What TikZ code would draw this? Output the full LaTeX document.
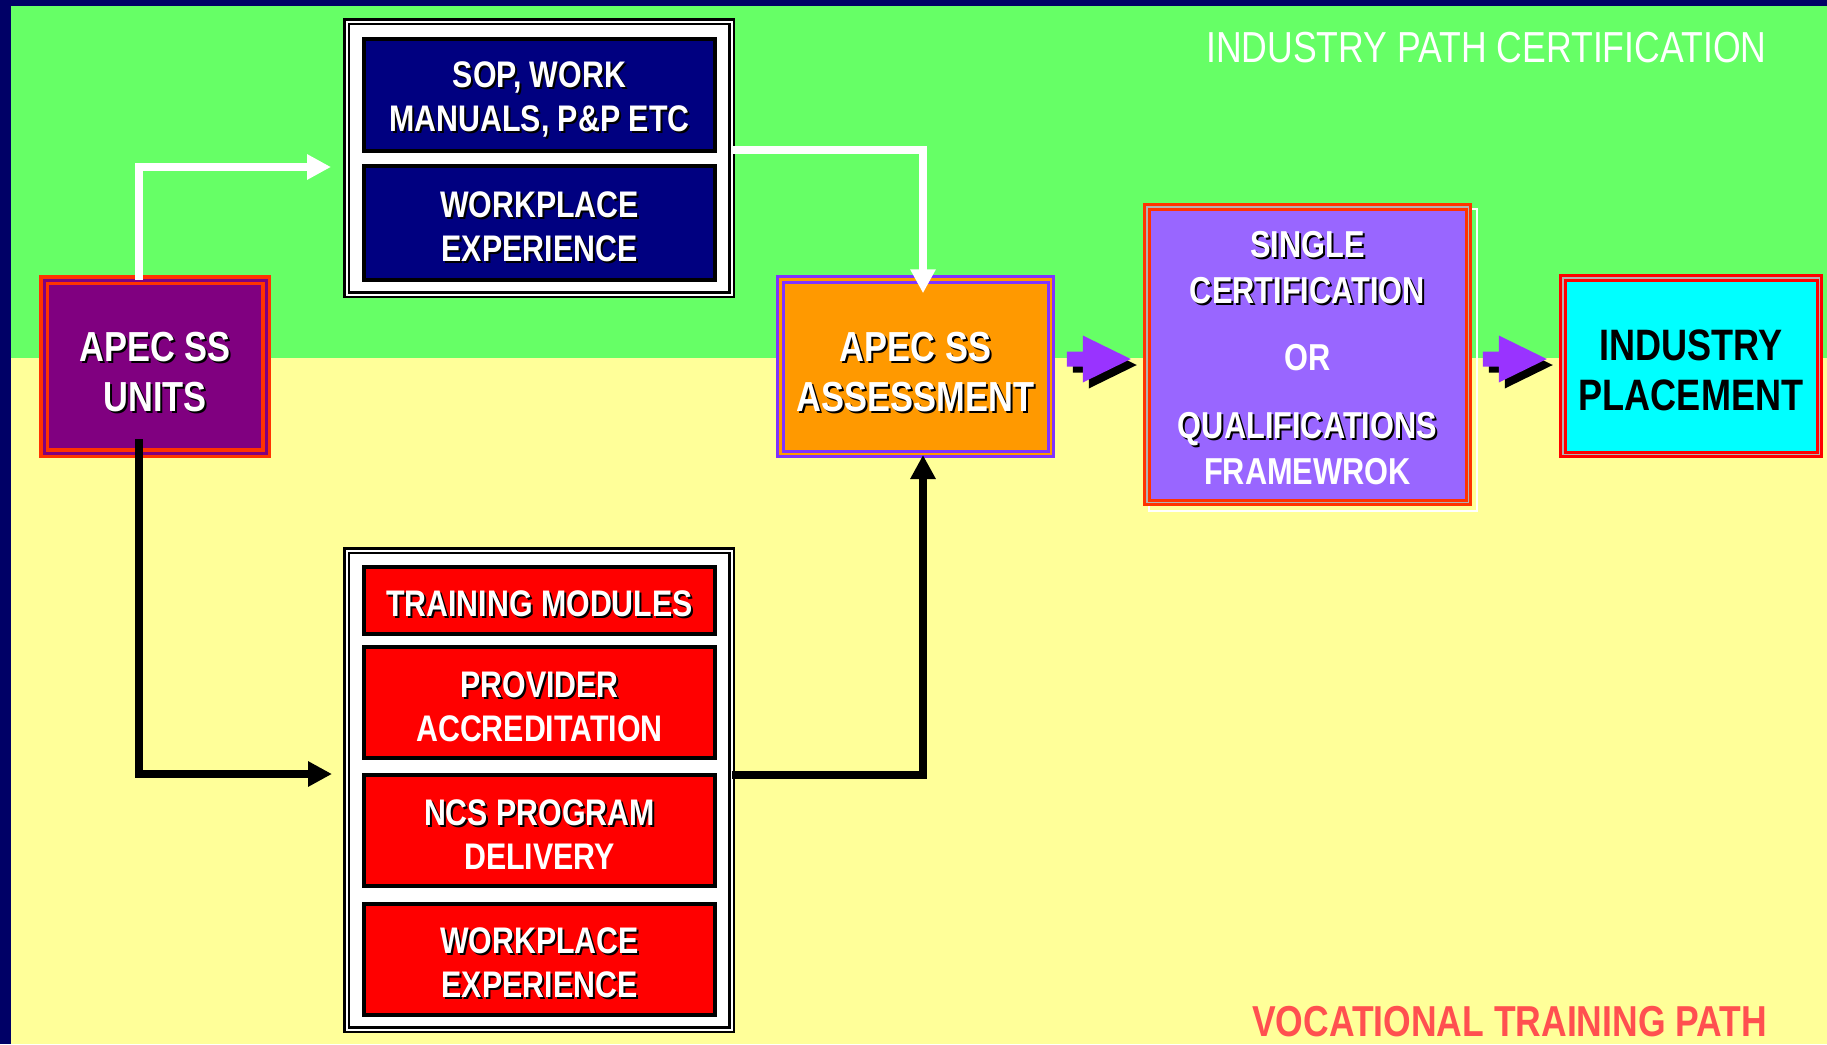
\documentclass[tikz,border=0pt]{standalone}
\usepackage{fontspec}
\setmainfont{Liberation Sans}
\newfontfamily\boxfont[FakeStretch=0.82]{Liberation Sans}
\usetikzlibrary{arrows.meta,calc}

\definecolor{framenavy}{HTML}{000066}
\definecolor{upperband}{HTML}{66FF66}
\definecolor{lowerband}{HTML}{FFFF99}
\definecolor{boxnavy}{HTML}{000080}
\definecolor{unitpurple}{HTML}{800080}
\definecolor{assessorange}{HTML}{FF9900}
\definecolor{assessviolet}{HTML}{7F33FF}
\definecolor{certlilac}{HTML}{9966FF}
\definecolor{placecyan}{HTML}{00FFFF}
\definecolor{borderred}{HTML}{FF3300}
\definecolor{arrowviolet}{HTML}{9933FF}
\definecolor{pathred}{HTML}{FF5050}

% white lettering with a black drop shadow
\newcommand{\shd}[1]{\rlap{\kern2pt\raisebox{-2pt}{\textcolor{black}{#1}}}#1}
% invisible strut on a first line, to set the lettering lower in its box
\newcommand{\drop}[1]{\rule{0pt}{#1}}

% violet block arrow with a black shadow, starting at the given coordinate
\newcommand{\blockarrow}[1]{%
  \fill[black] ($(#1)+(6,6)$) ++(0,-7.5) -- ++(16,0) -- ++(0,-16) -- ++(48,23.5)
     -- ++(-48,23.5) -- ++(0,-16) -- ++(-16,0) -- cycle;
  \fill[arrowviolet] (#1) ++(0,-7.5) -- ++(16,0) -- ++(0,-16) -- ++(48,23.5)
     -- ++(-48,23.5) -- ++(0,-16) -- ++(-16,0) -- cycle;}

\tikzset{
  grp/.style={draw=black, line width=2.5pt, double=white, double distance=2pt,
    fill=white, inner sep=0pt, outer sep=0pt, minimum width=385pt},
  itembox/.style={draw=black, line width=4pt, text=white, minimum width=351pt,
    inner sep=0pt, outer sep=0pt, align=center,
    font=\boxfont\bfseries\fontsize{37}{44}\selectfont},
  navyitem/.style={itembox, fill=boxnavy},
  reditem/.style={itembox, fill=red},
  unitbox/.style={draw=borderred, line width=3.5pt, double=unitpurple, double distance=3pt,
    fill=unitpurple, text=white, minimum width=222pt, minimum height=173pt,
    inner sep=0pt, outer sep=0pt, align=center,
    font=\boxfont\bfseries\fontsize{42}{50}\selectfont},
  assessbox/.style={draw=assessviolet, line width=3pt, double=assessorange, double distance=2.5pt,
    fill=assessorange, text=white, minimum width=270.5pt, minimum height=174.5pt,
    inner sep=0pt, outer sep=0pt, align=center,
    font=\boxfont\bfseries\fontsize{42}{50}\selectfont},
  certbox/.style={draw=borderred, line width=3pt, double=gray!60, double distance=1.5pt,
    fill=certlilac, text=white, minimum width=321.5pt, minimum height=295.5pt,
    inner sep=0pt, outer sep=0pt, align=center,
    font=\boxfont\bfseries\fontsize{37.5}{46}\selectfont},
  placebox/.style={draw=red, line width=3pt, double=gray!60, double distance=1.5pt,
    fill=placecyan, text=black, minimum width=256.5pt, minimum height=176.5pt,
    inner sep=0pt, outer sep=0pt, align=center,
    font=\boxfont\bfseries\fontsize{44}{50}\selectfont},
  pathtitle/.style={anchor=base west, inner sep=0pt},
  whiteconn/.style={draw=white, line width=8pt, -{Triangle[length=24pt,width=24pt]}},
  blackconn/.style={draw=black, line width=8pt, -{Triangle[length=24pt,width=24pt]}},
}

\begin{document}
\begin{tikzpicture}[x=1pt, y=-1pt]
  \useasboundingbox (0,0) rectangle (1827,1044);

  % background bands
  \fill[framenavy] (0,0) rectangle (1827,1044);
  \fill[upperband] (11,6) rectangle (1827,358);
  \fill[lowerband] (11,358) rectangle (1827,1044);

  % path titles
  \node[pathtitle, text=white, font=\boxfont\fontsize{43.4}{50}\selectfont]
        (uppertitle) at (1206,62) {INDUSTRY PATH CERTIFICATION};
  \node[pathtitle, text=pathred, font=\boxfont\bfseries\fontsize{43.3}{50}\selectfont]
        (lowertitle) at (1252,1036.5) {VOCATIONAL TRAINING PATH};

  % starting units
  \node[unitbox] (units) at (155,366.5) {\drop{42pt}\shd{APEC SS}\\\shd{UNITS}};

  % industry path group
  \node[grp, minimum height=273pt] (topgrp) at (539,158) {};
  \node[navyitem, minimum height=112pt] (sop) at (539.5,95)
        {\drop{37.5pt}\shd{SOP, WORK}\\\shd{MANUALS, P\&P ETC}};
  \node[navyitem, minimum height=114pt] (topwork) at (539.5,223)
        {\drop{35pt}\shd{WORKPLACE}\\\shd{EXPERIENCE}};

  % vocational training group
  \node[grp, minimum height=479pt] (botgrp) at (539,790) {};
  \node[reditem, minimum height=67pt] (modules) at (539.5,600.5)
        {\drop{35pt}\shd{TRAINING MODULES}};
  \node[reditem, minimum height=111pt] (provider) at (539.5,702.5)
        {\drop{33.5pt}\shd{PROVIDER}\\ACCREDITATION};
  \node[reditem, minimum height=111pt] (ncs) at (539.5,830.5)
        {\drop{33pt}\shd{NCS PROGRAM}\\DELIVERY};
  \node[reditem, minimum height=111pt] (botwork) at (539.5,959.5)
        {\drop{33.5pt}\shd{WORKPLACE}\\\shd{EXPERIENCE}};

  % assessment
  \node[assessbox] (assess) at (915.5,366.5) {\drop{42pt}\shd{APEC SS}\\\shd{ASSESSMENT}};

  % certification, with its offset white outline behind
  \draw[white, line width=1.5pt] (1149,209) rectangle (1477,511);
  \node[certbox] (cert) at (1307.5,354.5)
        {\drop{34pt}\shd{SINGLE}\\\shd{CERTIFICATION}\\[21pt]OR\\[22pt]\shd{QUALIFICATIONS}\\FRAMEWROK};

  % placement
  \node[placebox] (place) at (1691,366) {\drop{39.5pt}INDUSTRY\\PLACEMENT};

  % connectors
  \draw[whiteconn] ([xshift=-16pt]units.north) |- ([xshift=-15.5pt,yshift=-9pt]topgrp.west);
  \draw[blackconn] ([xshift=-16pt,yshift=14pt]units.south) |- ([xshift=-14.5pt,yshift=16pt]botgrp.west);
  \draw[whiteconn] ([yshift=8pt]topgrp.east) -| ([xshift=7.5pt,yshift=-14pt]assess.north);
  \draw[blackconn] ([yshift=15pt]botgrp.east) -| ([xshift=7.5pt,yshift=-1.25pt]assess.south);

  \coordinate (arrowA) at ($(assess.east)+(16,-7.5)$);
  \coordinate (arrowB) at ($(cert.east)+(14.5,4.5)$);
  \blockarrow{arrowA}
  \blockarrow{arrowB}
\end{tikzpicture}
\end{document}
